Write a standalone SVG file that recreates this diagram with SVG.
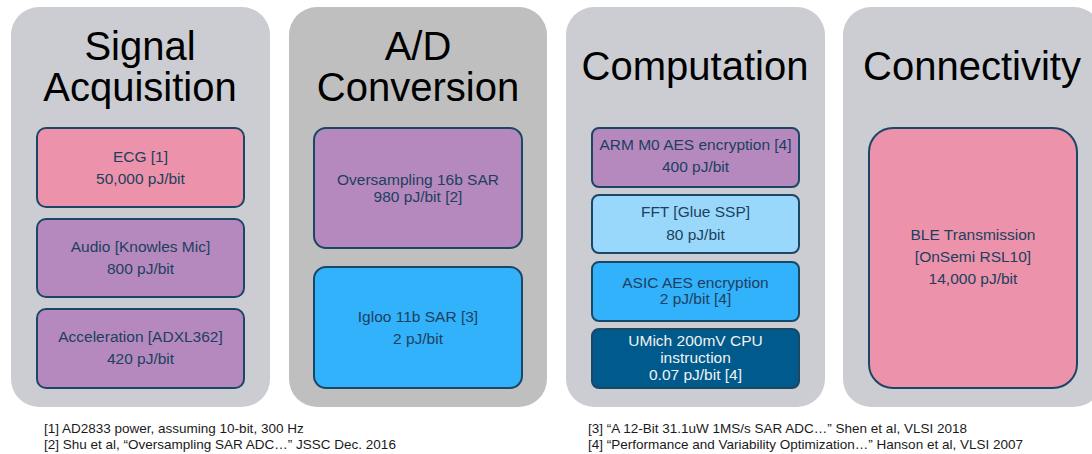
<svg xmlns="http://www.w3.org/2000/svg" width="1092" height="454" viewBox="0 0 1092 454">
<style>
.panel{fill:#cbcdd2}
.panel2{fill:#bfbfbf}
.title{font-family:"Liberation Sans",Arial,sans-serif;font-size:40px;fill:#000;text-anchor:middle}
.box{stroke:#1b4766;stroke-width:2}
.pink{fill:#ec93ab}
.purple{fill:#b589be}
.lblue{fill:#99d8fa}
.blue{fill:#31b2fb}
.dblue{fill:#005a8b}
.t{font-family:"Liberation Sans",Arial,sans-serif;font-size:15.5px;fill:#203f5e;text-anchor:middle}
.tw{font-family:"Liberation Sans",Arial,sans-serif;font-size:15.5px;fill:#f2f2f2;text-anchor:middle}
.fn{font-family:"Liberation Sans",Arial,sans-serif;font-size:13.5px;fill:#1a1a1a}
</style>
<g id="panel-signal">
<rect class="panel" x="11" y="7" width="259" height="400" rx="28"/>
<text class="title" x="140" y="60">Signal</text>
<text class="title" x="140" y="101">Acquisition</text>
</g>
<g id="panel-ad">
<rect class="panel2" x="289" y="7" width="258" height="400" rx="28"/>
<text class="title" x="418" y="60">A/D</text>
<text class="title" x="418" y="101">Conversion</text>
</g>
<g id="panel-comp">
<rect class="panel" x="566" y="7" width="259" height="400" rx="28"/>
<text class="title" x="695" y="80">Computation</text>
</g>
<g id="panel-conn">
<rect class="panel" x="843" y="7" width="259" height="400" rx="28"/>
<text class="title" x="972" y="80">Connectivity</text>
</g>
<g id="connectors"></g>
<g id="ecg">
<rect class="box pink" x="37" y="128" width="207" height="79" rx="9"/>
<text class="t" x="140.5" y="162">ECG [1]</text>
<text class="t" x="140.5" y="184">50,000 pJ/bit</text>
</g>
<g id="audio">
<rect class="box purple" x="37" y="219" width="207" height="78" rx="9"/>
<text class="t" x="140.5" y="252">Audio [Knowles Mic]</text>
<text class="t" x="140.5" y="274">800 pJ/bit</text>
</g>
<g id="accel">
<rect class="box purple" x="37" y="309" width="207" height="79" rx="9"/>
<text class="t" x="140.5" y="342">Acceleration [ADXL362]</text>
<text class="t" x="140.5" y="364">420 pJ/bit</text>
</g>
<g id="oversampling">
<rect class="box purple" x="314" y="128" width="208" height="120" rx="12"/>
<text class="t" x="418" y="185">Oversampling 16b SAR</text>
<text class="t" x="418" y="202">980 pJ/bit [2]</text>
</g>
<g id="igloo">
<rect class="box blue" x="314" y="267" width="208" height="121" rx="12"/>
<text class="t" x="418" y="322">Igloo 11b SAR [3]</text>
<text class="t" x="418" y="344">2 pJ/bit</text>
</g>
<g id="arm">
<rect class="box purple" x="592" y="128" width="207" height="59" rx="7"/>
<text class="t" x="695.5" y="150">ARM M0 AES encryption [4]</text>
<text class="t" x="695.5" y="172">400 pJ/bit</text>
</g>
<g id="fft">
<rect class="box lblue" x="592" y="195" width="207" height="58" rx="7"/>
<text class="t" x="695.5" y="217">FFT [Glue SSP]</text>
<text class="t" x="695.5" y="240">80 pJ/bit</text>
</g>
<g id="asic">
<rect class="box blue" x="592" y="262" width="207" height="59" rx="7"/>
<text class="t" x="695.5" y="288">ASIC AES encryption</text>
<text class="t" x="695.5" y="304">2 pJ/bit [4]</text>
</g>
<g id="umich">
<rect class="box dblue" x="592" y="329" width="207" height="59" rx="7"/>
<text class="tw" x="695.5" y="346">UMich 200mV CPU</text>
<text class="tw" x="695.5" y="363">instruction</text>
<text class="tw" x="695.5" y="380">0.07 pJ/bit [4]</text>
</g>
<g id="ble">
<rect class="box pink" x="869" y="128" width="208" height="260" rx="24"/>
<text class="t" x="973" y="240">BLE Transmission</text>
<text class="t" x="973" y="262">[OnSemi RSL10]</text>
<text class="t" x="973" y="284">14,000 pJ/bit</text>
</g>
<g id="footnotes">
<text class="fn" x="44" y="433">[1] AD2833 power, assuming 10-bit, 300 Hz</text>
<text class="fn" x="44" y="449">[2] Shu et al, “Oversampling SAR ADC…” JSSC Dec. 2016</text>
<text class="fn" x="588" y="433">[3] “A 12-Bit 31.1uW 1MS/s SAR ADC…” Shen et al, VLSI 2018</text>
<text class="fn" x="588" y="449">[4] “Performance and Variability Optimization…”  Hanson et al, VLSI 2007</text>
</g>
</svg>
